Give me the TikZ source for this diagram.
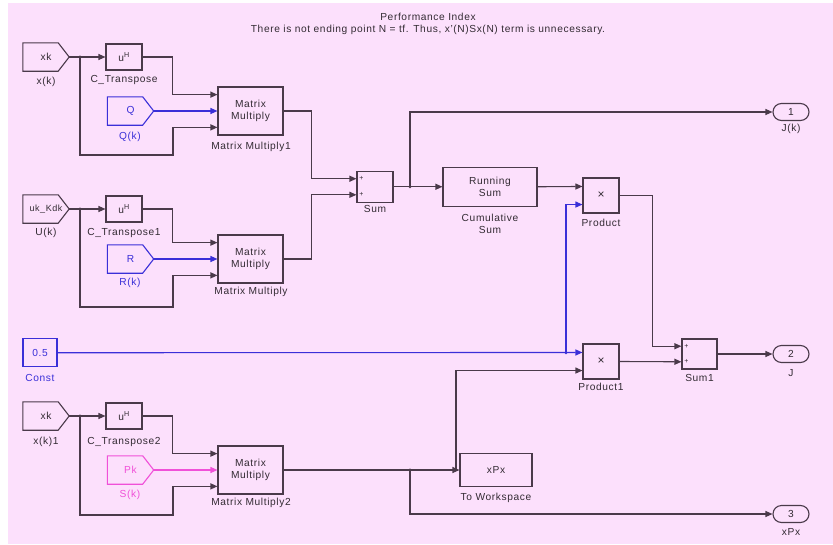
\documentclass[tikz,border=0pt]{standalone}
\usepackage{fontspec}
\setmainfont{Liberation Sans}[LetterSpace=6]
\usetikzlibrary{arrows.meta,calc}
\definecolor{bgpink}{HTML}{FCE0FC}
\definecolor{linec}{HTML}{4A3A4A}
\definecolor{txtc}{HTML}{332B33}
\definecolor{blu}{HTML}{3A2FD8}
\definecolor{mag}{HTML}{F050D8}
\newcommand\pentblk[2]{\draw[#2, line width=1.1pt] (#1.south west) -- (#1.north west) -- ([xshift=-11pt]#1.north east) -- (#1.east) -- ([xshift=-11pt]#1.south east) -- cycle;}
\begin{document}
\begin{tikzpicture}[x=1pt,y=-1pt, font=\fontsize{10.2}{11.5}\selectfont, text=txtc,
 blk/.style={draw=linec, line width=1.1pt, inner sep=0pt, align=center},
 gto/.style={inner sep=0pt, minimum width=46, minimum height=28},
 conn/.style={draw=linec, line width=1.1pt, -{Triangle[length=7pt,width=6pt]}},
 dot/.style={circle, fill=linec, inner sep=0pt, minimum size=3.2pt},
 lbl/.style={inner sep=0pt, anchor=center},
 plus/.style={inner sep=0pt, font=\fontsize{7}{7}\selectfont},
 oport/.style={draw=linec, line width=1.1pt, rounded corners=8.5pt, minimum width=36, minimum height=17, inner sep=0pt}]
\fill[white] (0,0) rectangle (833,544);
\fill[bgpink] (8,3) rectangle (833,544);
\useasboundingbox (0,0) rectangle (833,544);

% title
\node[lbl] (t1) at (428,17) {Performance Index};
\node[lbl] (t2) at (428,30) {There is not ending point N = tf. Thus, x'(N)Sx(N) term is unnecessary.};

% ---------- group 1
\node[gto] (xk1) at (46,57) {xk}; \pentblk{xk1}{linec}
\node[lbl] at (46,82) {x(k)};
\node[blk, minimum width=36, minimum height=26] (ct1) at (124,57) {u\textsuperscript{H}};
\node[lbl] at (124,80) {C\_Transpose};
\node[gto, text=blu] (q1) at (130.5,111) {Q}; \pentblk{q1}{blu}
\node[lbl, text=blu] at (130,137) {Q(k)};
\node[blk, minimum width=65, minimum height=48] (mm1) at (250.5,111) {Matrix\\Multiply};
\node[lbl] at (251,147) {Matrix Multiply1};
\coordinate (mm1i1) at ($(mm1.north west)!1/6!(mm1.south west)$);
\coordinate (mm1i2) at (mm1.west);
\coordinate (mm1i3) at ($(mm1.north west)!5/6!(mm1.south west)$);
\coordinate (b1) at (80,57);

% ---------- group 2
\node[gto] (uk) at (46,209) {\fontsize{9}{10}\selectfont uk\_Kdk}; \pentblk{uk}{linec}
\node[lbl] at (46,233) {U(k)};
\node[blk, minimum width=36, minimum height=26] (ct2) at (124,209) {u\textsuperscript{H}};
\node[lbl] at (124,233) {C\_Transpose1};
\node[gto, text=blu] (r1) at (130.5,259) {R}; \pentblk{r1}{blu}
\node[lbl, text=blu] at (130,283) {R(k)};
\node[blk, minimum width=65, minimum height=48] (mm) at (250.5,259) {Matrix\\Multiply};
\node[lbl] at (251,292) {Matrix Multiply};
\coordinate (mmi1) at ($(mm.north west)!1/6!(mm.south west)$);
\coordinate (mmi2) at (mm.west);
\coordinate (mmi3) at ($(mm.north west)!5/6!(mm.south west)$);
\coordinate (b2) at (80,209);

% ---------- const
\node[blk, draw=blu, text=blu, minimum width=34, minimum height=28] (const) at (40,352.75) {0.5};
\node[lbl, text=blu] at (40,378) {Const};

% ---------- group 3
\node[gto] (xk3) at (46,416) {xk}; \pentblk{xk3}{linec}
\node[lbl] at (46,442) {x(k)1};
\node[blk, minimum width=36, minimum height=26] (ct3) at (124,416) {u\textsuperscript{H}};
\node[lbl] at (124,442) {C\_Transpose2};
\node[gto, text=mag] (pk) at (130.5,470) {Pk}; \pentblk{pk}{mag}
\node[lbl, text=mag] at (130,495) {S(k)};
\node[blk, minimum width=65, minimum height=48] (mm2) at (250.5,470) {Matrix\\Multiply};
\node[lbl] at (251,503) {Matrix Multiply2};
\coordinate (mm2i1) at ($(mm2.north west)!1/6!(mm2.south west)$);
\coordinate (mm2i2) at (mm2.west);
\coordinate (mm2i3) at ($(mm2.north west)!5/6!(mm2.south west)$);
\coordinate (b3) at (80,416);

% ---------- right part
\node[blk, minimum width=36, minimum height=31] (sum) at (375,186.75) {};
\node[lbl] at (375,209) {Sum};
\coordinate (sumi1) at ($(sum.north west)!1/4!(sum.south west)$);
\coordinate (sumi2) at ($(sum.north west)!3/4!(sum.south west)$);
\node[plus] at ($(sumi1)+(5,0)$) {+};
\node[plus] at ($(sumi2)+(5,0)$) {+};

\node[blk, minimum width=94, minimum height=39] (rs) at (490,186.75) {Running\\Sum};
\node[lbl, align=center] at (490,224) {Cumulative\\Sum};

\node[blk, minimum width=36, minimum height=35] (prod) at (601,195.5) {\large ×};
\node[lbl] at (601,223) {Product};
\coordinate (prodi1) at ($(prod.north west)!1/4!(prod.south west)$);
\coordinate (prodi2) at ($(prod.north west)!3/4!(prod.south west)$);

\node[blk, minimum width=36, minimum height=35] (prod1) at (601,361.5) {\large ×};
\node[lbl] at (601,387) {Product1};
\coordinate (p1i1) at ($(prod1.north west)!1/4!(prod1.south west)$);
\coordinate (p1i2) at ($(prod1.north west)!3/4!(prod1.south west)$);

\node[blk, minimum width=35, minimum height=30] (sum1) at (699.5,354) {};
\node[lbl] at (699.5,378) {Sum1};
\coordinate (s1i1) at ($(sum1.north west)!1/4!(sum1.south west)$);
\coordinate (s1i2) at ($(sum1.north west)!3/4!(sum1.south west)$);
\node[plus] at ($(s1i1)+(5,0)$) {+};
\node[plus] at ($(s1i2)+(5,0)$) {+};

\node[blk, minimum width=72, minimum height=33] (tw) at (496,470) {xPx};
\node[lbl] at (496,498) {To Workspace};

\node[oport] (o1) at (791,112) {1};
\node[lbl] at (791,129) {J(k)};
\node[oport] (o2) at (791,354) {2};
\node[lbl] at (791,373) {J};
\node[oport] (o3) at (791,514) {3};
\node[lbl] at (791,532) {xPx};

\coordinate (b4) at (410,186.75);
\coordinate (b5) at (566,352.75);
\coordinate (b6) at (410,470);
\coordinate (b7) at (456,470);

% ---------- connectors group 1
\draw[conn] (xk1.east) -- (ct1.west);
\draw[conn] (ct1.east) -| ($(mm1i1)+(-45,0)$) -- (mm1i1);
\draw[conn, draw=blu] (q1.east) -- (mm1i2);
\draw[conn] (b1) |- (173,155) |- (mm1i3);
\node[dot] at (b1) {};
% group 2
\draw[conn] (uk.east) -- (ct2.west);
\draw[conn] (ct2.east) -| ($(mmi1)+(-45,0)$) -- (mmi1);
\draw[conn, draw=blu] (r1.east) -- (mmi2);
\draw[conn] (b2) |- (173,307) |- (mmi3);
\node[dot] at (b2) {};
% group 3
\draw[conn] (xk3.east) -- (ct3.west);
\draw[conn] (ct3.east) -| ($(mm2i1)+(-45,0)$) -- (mm2i1);
\draw[conn, draw=mag] (pk.east) -- (mm2i2);
\draw[conn] (b3) |- (173,515) |- (mm2i3);
\node[dot] at (b3) {};

% sums
\draw[conn] (mm1.east) -| ($(sumi1)+(-45,0)$) -- (sumi1);
\draw[conn] (mm.east) -| ($(sumi2)+(-45,0)$) -- (sumi2);
\draw[conn] (sum.east) -- (rs.west);
\draw[conn] (b4) |- (o1.west);
\node[dot] at (b4) {};
\draw[conn] (rs.east) -- (prodi1);
\draw[conn, draw=blu] (const.east) -- (p1i1);
\draw[conn, draw=blu] (b5) |- (prodi2);
\node[dot, fill=blu] at (b5) {};
\draw[conn] (prod.east) -| ($(s1i1)+(-29,0)$) -- (s1i1);
\draw[conn] (prod1.east) -- (s1i2);
\draw[conn] (sum1.east) -- (o2.west);
\draw[conn] (mm2.east) -- (tw.west);
\draw[conn] (b7) |- (p1i2);
\draw[conn] (b6) |- (o3.west);
\node[dot] at (b6) {};
\end{tikzpicture}
\end{document}
